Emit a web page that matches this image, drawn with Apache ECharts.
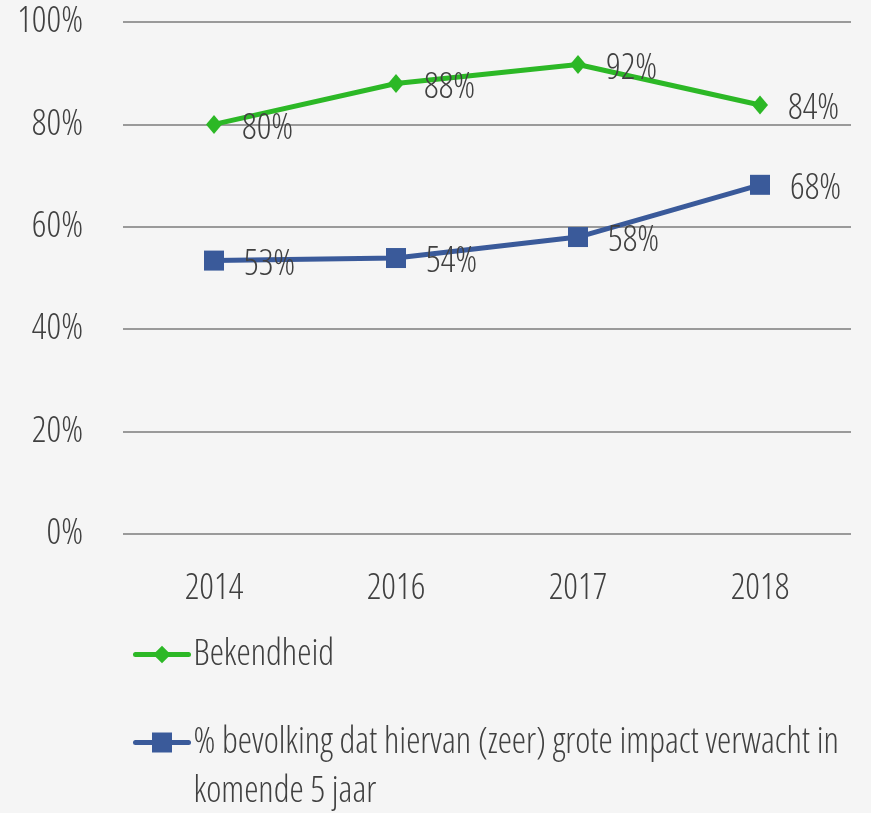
<!DOCTYPE html>
<html>
<head>
<meta charset="utf-8">
<script src="https://cdn.jsdelivr.net/npm/echarts@6/dist/echarts.min.js"></script>
<style>
html,body{margin:0;padding:0;background:#f5f5f5;}
#chart{width:871px;height:813px;}
</style>
</head>
<body>
<div id="chart"></div>
<script>
var categories = ['2014', '2016', '2017', '2018'];
var seriesNames = ['Bekendheid', '% bevolking dat hiervan (zeer) grote impact verwacht in komende 5 jaar'];
var bekendheid = [80, 88, 91.7, 83.8];
var impact = [53.4, 53.9, 58, 68.2];
var yTicks = [0, 20, 40, 60, 80, 100];

var FONT = "'Open Sans', sans-serif";
var FW = '300 condensed';
var FS = 36;
var TXT = '#404040';
var GREEN = '#2cb826';
var BLUE = '#3a5a9a';

var chart = echarts.init(document.getElementById('chart'));
var labelCfg = {
  show: true, position: 'right', distance: 20, offset: [0, 4],
  color: TXT, fontFamily: FONT, fontWeight: FW, fontSize: FS,
  formatter: function (p) { return Math.round(p.value) + '%'; }
};
var legendText = { color: TXT, fontFamily: FONT, fontWeight: FW, fontSize: FS, lineHeight: 49 };
chart.setOption({
  backgroundColor: '#f5f5f5',
  animation: false,
  grid: { left: 123, right: 20, top: 22, bottom: 279, containLabel: false },
  xAxis: {
    type: 'category', data: categories, boundaryGap: true,
    axisLine: { show: false }, axisTick: { show: false },
    axisLabel: { color: TXT, fontFamily: FONT, fontWeight: FW, fontSize: FS, margin: 37 }
  },
  yAxis: {
    type: 'value', min: yTicks[0], max: yTicks[yTicks.length - 1], interval: 20,
    axisLine: { show: false }, axisTick: { show: false },
    splitLine: { lineStyle: { color: '#9a9a9a', width: 2 } },
    axisLabel: { color: TXT, fontFamily: FONT, fontWeight: FW, fontSize: FS, margin: 40,
      formatter: function (v) { return v + '%'; } }
  },
  legend: [
    {
      data: [seriesNames[0]], left: 133, top: 630, orient: 'vertical', padding: 0,
      itemWidth: 53, itemHeight: 22, itemGap: 0,
      lineStyle: { width: 5, cap: 'round' },
      textStyle: legendText
    },
    {
      data: [seriesNames[1]], left: 133, top: 669, orient: 'vertical', padding: 0,
      itemWidth: 53, itemHeight: 25, itemGap: 0,
      lineStyle: { width: 5, cap: 'round' },
      formatter: function (n) { return '\n' + n.replace(' komende', '\nkomende'); },
      textStyle: legendText
    }
  ],
  series: [
    {
      name: seriesNames[0], type: 'line', data: bekendheid,
      symbol: 'diamond', symbolSize: [16, 19],
      lineStyle: { color: GREEN, width: 5 }, itemStyle: { color: GREEN },
      label: labelCfg
    },
    {
      name: seriesNames[1], type: 'line', data: impact,
      symbol: 'rect', symbolSize: 20,
      lineStyle: { color: BLUE, width: 5 }, itemStyle: { color: BLUE },
      label: labelCfg
    }
  ]
});
</script>
</body>
</html>
